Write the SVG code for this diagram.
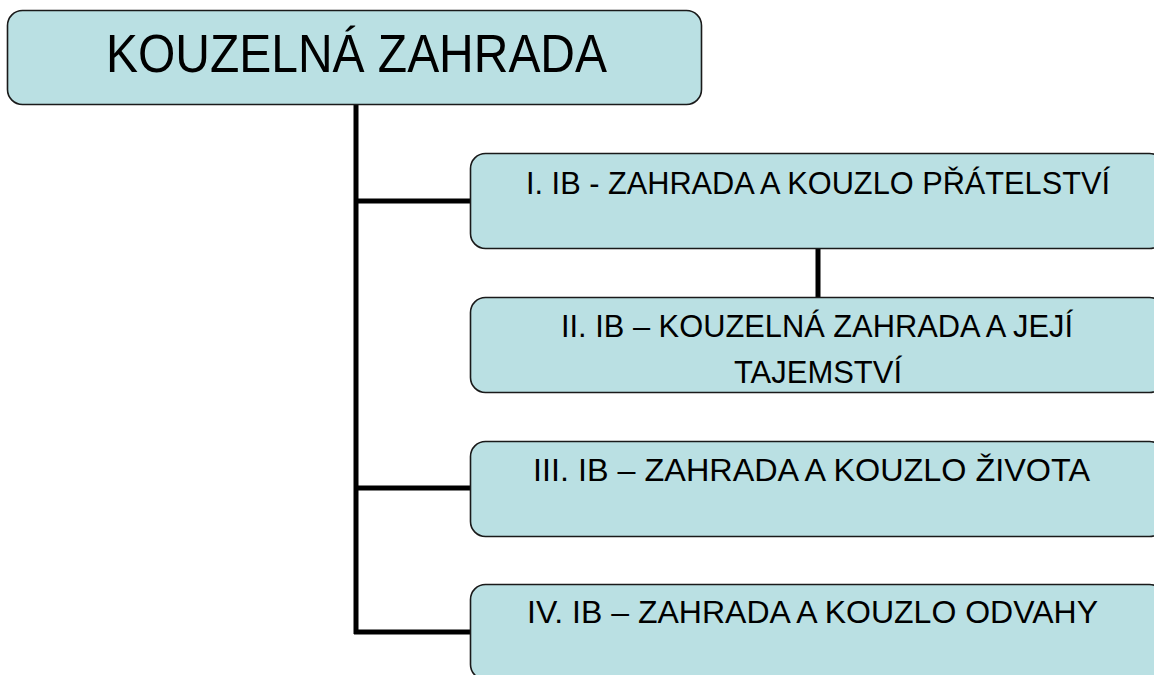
<svg xmlns="http://www.w3.org/2000/svg" width="1154" height="675" viewBox="0 0 1154 675">
<style>
.box{fill:#bae0e3;stroke:#1a1a1a;stroke-width:1.6}
.t{font-family:"Liberation Sans","Open Sans",sans-serif;fill:#000}
.s{font-size:31px}
.conn{stroke:#000;stroke-width:5;fill:none}
</style>
<rect width="1154" height="675" fill="#fff"/>
<g id="connectors">
<path class="conn" d="M356 104 V634 M356 201 H471 M356 488 H471 M354 632 H471 M818 249 V298"/>
</g>
<g id="root">
<rect class="box" x="7.5" y="10.5" width="694" height="94" rx="15"/>
<text class="t" x="106" y="72" font-size="53" textLength="501" lengthAdjust="spacingAndGlyphs">KOUZELNÁ ZAHRADA</text>
</g>
<g id="n1">
<rect class="box" x="470.5" y="153.5" width="694" height="95" rx="15"/>
<text class="t s" x="526" y="194" textLength="584" lengthAdjust="spacingAndGlyphs">I. IB - ZAHRADA A KOUZLO PŘÁTELSTVÍ</text>
</g>
<g id="n2">
<rect class="box" x="470.5" y="297.5" width="694" height="95" rx="15"/>
<text class="t s" x="561" y="337" textLength="512" lengthAdjust="spacingAndGlyphs">II. IB – KOUZELNÁ ZAHRADA A JEJÍ</text>
<text class="t s" x="734" y="383" textLength="168" lengthAdjust="spacingAndGlyphs">TAJEMSTVÍ</text>
</g>
<g id="n3">
<rect class="box" x="470.5" y="441.5" width="694" height="95" rx="15"/>
<text class="t s" x="533" y="481" textLength="557" lengthAdjust="spacingAndGlyphs">III. IB – ZAHRADA A KOUZLO ŽIVOTA</text>
</g>
<g id="n4">
<rect class="box" x="470.5" y="584.5" width="694" height="95" rx="15"/>
<text class="t s" x="527" y="623" textLength="571" lengthAdjust="spacingAndGlyphs">IV. IB – ZAHRADA A KOUZLO ODVAHY</text>
</g>
</svg>
